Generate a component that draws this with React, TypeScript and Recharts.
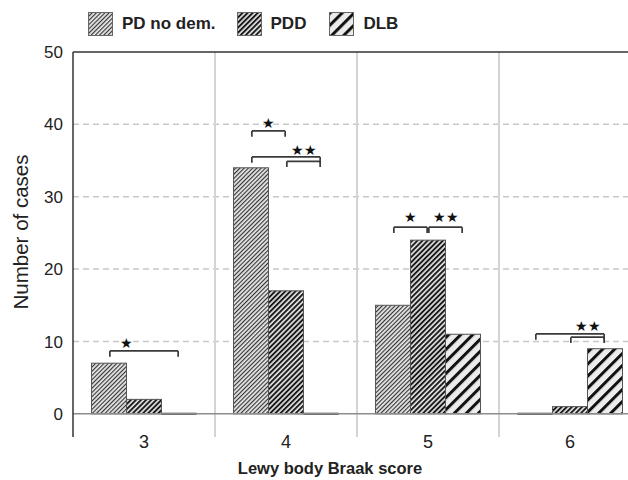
import React from "react";
import { BarChart, Bar, XAxis, YAxis, CartesianGrid, ReferenceLine, ReferenceDot } from "recharts";

// ── Data ────────────────────────────────────────────────────────────────────

const scores = ["3", "4", "5", "6"];
const pdNoDem = [7, 34, 15, 0];
const pdd = [2, 17, 24, 1];
const dlb = [0, 0, 11, 9];
const yTicks = [0, 10, 20, 30, 40, 50];
const gridValues = [10, 20, 30, 40];

// significance brackets: category index, series from/to, height in cases
const brackets = [
  { cat: 0, from: 0, to: 2, level: 8.7 },
  { cat: 1, from: 0, to: 1, level: 39.1 },
  { cat: 1, from: 0, to: 2, level: 35.5 },
  { cat: 1, from: 1, to: 2, level: 34.9 },
  { cat: 2, from: 0, to: 1, level: 25.8 },
  { cat: 2, from: 1, to: 2, level: 25.8 },
  { cat: 3, from: 0, to: 2, level: 11.05 },
  { cat: 3, from: 1, to: 2, level: 10.6 },
];

const stars = [
  { cat: 0, at: 0.5, level: 9.8, text: "★" },
  { cat: 1, at: 0.5, level: 40.2, text: "★" },
  { cat: 1, at: 1.5, level: 36.5, text: "★★" },
  { cat: 2, at: 0.5, level: 27.2, text: "★" },
  { cat: 2, at: 1.5, level: 27.2, text: "★★" },
  { cat: 3, at: 1.5, level: 12.15, text: "★★" },
];

const series = [
  { key: "pdNoDem", name: "PD no dem.", pattern: "pat-pd" },
  { key: "pdd", name: "PDD", pattern: "pat-pdd" },
  { key: "dlb", name: "DLB", pattern: "pat-dlb" },
];

const data = scores.map((score, i) => ({
  score,
  pos: i + 0.5,
  pdNoDem: pdNoDem[i],
  pdd: pdd[i],
  dlb: dlb[i],
}));

// ── Layout ──────────────────────────────────────────────────────────────────

const BAND = 142;
const GAP = 18.5;
const BAR = 35;
const TICK_DROP = 0.8;
const FONT = '"Liberation Sans", Arial, sans-serif';

// position on the hidden numeric axis (one unit per category), s = series slot
const slotX = (cat: number, s: number) => cat + (GAP + BAR * (s + 0.5)) / BAND;

function Patterns() {
  return (
    <svg width={0} height={0} style={{ position: "absolute" }}>
      <defs>
        <pattern id="pat-pd" width={3} height={3} patternUnits="userSpaceOnUse" patternTransform="rotate(45)">
          <rect width={3} height={3} fill="#e4e4e4" />
          <rect width={1.1} height={3} fill="#333" />
        </pattern>
        <pattern id="pat-pdd" width={3.6} height={3.6} patternUnits="userSpaceOnUse" patternTransform="rotate(45)">
          <rect width={3.6} height={3.6} fill="#e0e0e0" />
          <rect width={1.9} height={3.6} fill="#1a1a1a" />
        </pattern>
        <pattern id="pat-dlb" width={8.5} height={8.5} patternUnits="userSpaceOnUse" patternTransform="rotate(45)">
          <rect width={8.5} height={8.5} fill="#ececec" />
          <rect width={3} height={8.5} fill="#111" />
        </pattern>
      </defs>
    </svg>
  );
}

function HatchBar(props: any) {
  const { x, y, width, height, fill } = props;
  if (!height || Math.abs(height) < 0.5) {
    return <line x1={x} x2={x + width} y1={y} y2={y} stroke="#222" strokeWidth={2} />;
  }
  return <rect x={x} y={y} width={width} height={height} fill={fill} stroke="#555" strokeWidth={1} />;
}

function ScoreTick(props: any) {
  const { x, y, payload } = props;
  return (
    <text x={x} y={y + 9} textAnchor="middle" fontSize={18} fill="#222" fontFamily={FONT}>
      {payload.value}
    </text>
  );
}

function LegendRow() {
  const gaps = [21, 23, 0];
  return (
    <div style={{ position: "absolute", left: 88, top: 12, display: "flex", alignItems: "center", fontFamily: FONT }}>
      {series.map((s, i) => (
        <div key={s.key} style={{ display: "flex", alignItems: "center", marginRight: gaps[i] }}>
          <svg width={25} height={24} style={{ display: "block" }}>
            <rect x={0.5} y={0.5} width={24} height={23} fill={`url(#${s.pattern})`} stroke="#666" />
          </svg>
          <span style={{ marginLeft: 9, fontSize: 17, fontWeight: "bold", color: "#222" }}>{s.name}</span>
        </div>
      ))}
    </div>
  );
}

export default function App() {
  return (
    <div style={{ position: "absolute", left: 0, top: 0, width: 628, height: 480, overflow: "hidden", background: "#fff" }}>
      <Patterns />
      <BarChart
        width={660}
        height={480}
        data={data}
        margin={{ top: 52, right: 19, left: 0, bottom: 0 }}
        barCategoryGap={GAP}
        barGap={0}
      >
        <CartesianGrid vertical={false} horizontalValues={gridValues} stroke="#c8c8c8" strokeDasharray="6 4" strokeWidth={1.5} />
        <XAxis dataKey="score" axisLine={false} tickLine={false} tick={<ScoreTick />} tickSize={0} height={43} />
        <XAxis xAxisId="n" dataKey="pos" type="number" domain={[0, 4]} hide allowDataOverflow />
        <YAxis
          width={73}
          domain={[-3.2, 50]}
          ticks={yTicks}
          allowDataOverflow
          axisLine={{ stroke: "#333", strokeWidth: 1.5 }}
          tickLine={false}
          tickSize={0}
          tickMargin={10}
          tick={{ fontSize: 17, fill: "#222", fontFamily: FONT }}
        />
        {[1, 2, 3].map((v) => (
          <ReferenceLine key={`sep${v}`} xAxisId="n" x={v} stroke="#d4d4d4" strokeWidth={2} />
        ))}
        <ReferenceLine y={0} stroke="#8c8c8c" strokeWidth={1.5} />
        <ReferenceLine y={50} stroke="#333" strokeWidth={1.5} />
        {series.map((s) => (
          <Bar
            key={s.key}
            dataKey={s.key}
            name={s.name}
            fill={`url(#${s.pattern})`}
            shape={<HatchBar />}
            isAnimationActive={false}
          />
        ))}
        {brackets.flatMap((b, i) => {
          const x1 = slotX(b.cat, b.from) + 0.006;
          const x2 = slotX(b.cat, b.to) - 0.006;
          const low = b.level - TICK_DROP;
          const style = { stroke: "#3a3a3a", strokeWidth: 1.7, xAxisId: "n", ifOverflow: "visible" as const };
          return [
            <ReferenceLine key={`bh${i}`} {...style} segment={[{ x: x1, y: b.level }, { x: x2, y: b.level }]} />,
            <ReferenceLine key={`bl${i}`} {...style} segment={[{ x: x1, y: b.level }, { x: x1, y: low }]} />,
            <ReferenceLine key={`br${i}`} {...style} segment={[{ x: x2, y: b.level }, { x: x2, y: low }]} />,
          ];
        })}
        {stars.map((s, i) => (
          <ReferenceDot
            key={`st${i}`}
            xAxisId="n"
            x={slotX(s.cat, s.at)}
            y={s.level}
            r={0}
            fill="none"
            stroke="none"
            ifOverflow="visible"
            label={{ value: s.text, position: "center", fontSize: 14, fill: "#111" }}
          />
        ))}
        <text x={20} y={232} transform="rotate(-90 20 232)" textAnchor="middle" dominantBaseline="central" fontSize={20.5} fill="#222" fontFamily={FONT}>
          Number of cases
        </text>
        <text x={330} y={474} textAnchor="middle" fontSize={16.5} fontWeight="bold" fill="#222" fontFamily={FONT}>
          Lewy body Braak score
        </text>
      </BarChart>
      <LegendRow />
    </div>
  );
}
